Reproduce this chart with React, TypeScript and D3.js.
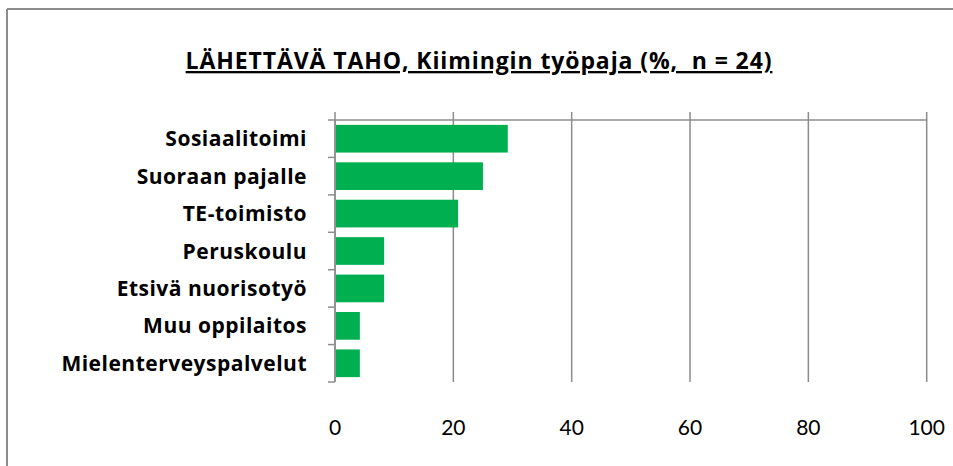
import React from "react";
import * as d3 from "d3";

const categories = [
  "Sosiaalitoimi",
  "Suoraan pajalle",
  "TE-toimisto",
  "Peruskoulu",
  "Etsivä nuorisotyö",
  "Muu oppilaitos",
  "Mielenterveyspalvelut",
];
const values = [29.2, 25.0, 20.8, 8.3, 8.3, 4.2, 4.2];
const xTicks = [0, 20, 40, 60, 80, 100];
const title = "LÄHETTÄVÄ TAHO, Kiimingin työpaja (%,  n = 24)";

const W = 953;
const H = 466;
const plotLeft = 335;
const plotRight = 926.7;
const plotTop = 120;
const plotBottom = 382;
const gray = "#8c8c8c";
const green = "#00b050";
const boldFont = "'Open Sans', Lato, sans-serif";
const tickFont = "Lato, 'Open Sans', sans-serif";

export default function App() {
  const x = d3.scaleLinear().domain([0, 100]).range([plotLeft, plotRight]);
  const y = d3
    .scaleBand<string>()
    .domain(categories)
    .range([plotTop, plotBottom])
    .paddingInner(0.26)
    .paddingOuter(0.13);
  const step = (plotBottom - plotTop) / categories.length;
  const boundaries = d3.range(categories.length + 1).map((i) => plotTop + i * step);

  return (
    <svg
      width={W}
      height={H}
      viewBox={`0 0 ${W} ${H}`}
      style={{ position: "absolute", left: 0, top: 0, background: "#fff" }}
    >
      <rect x={0} y={0} width={W} height={H} fill="#fff" />
      {/* outer chart border */}
      <line x1={7} y1={9} x2={W} y2={9} stroke={gray} strokeWidth={2} />
      <line x1={7} y1={9} x2={7} y2={H} stroke={gray} strokeWidth={2} />

      {/* title */}
      <text
        x={479}
        y={69}
        textAnchor="middle"
        fontFamily={boldFont}
        fontWeight="bold"
        fontSize={23}
        letterSpacing={0.9}
        textDecoration="underline"
        style={{ whiteSpace: "pre" }}
        fill="#000"
      >
        {title}
      </text>

      {/* gridlines with top tick marks */}
      {xTicks.map((t) => (
        <line
          key={"g" + t}
          x1={x(t)}
          x2={x(t)}
          y1={plotTop - 8}
          y2={plotBottom}
          stroke={gray}
          strokeWidth={1.5}
        />
      ))}
      {/* top value-axis line */}
      <line x1={plotLeft} x2={plotRight} y1={plotTop} y2={plotTop} stroke={gray} strokeWidth={1.5} />
      {/* category axis line and ticks */}
      <line x1={plotLeft} x2={plotLeft} y1={plotTop} y2={plotBottom} stroke={gray} strokeWidth={1.5} />
      {boundaries.map((b, i) => (
        <line key={"t" + i} x1={plotLeft - 7} x2={plotLeft} y1={b} y2={b} stroke={gray} strokeWidth={1.5} />
      ))}

      {/* bars */}
      {categories.map((c, i) => (
        <rect
          key={c}
          x={x(0) + 1}
          y={y(c)}
          width={x(values[i]) - x(0) - 1}
          height={y.bandwidth()}
          fill={green}
        />
      ))}

      {/* category labels */}
      {categories.map((c) => (
        <text
          key={"l" + c}
          x={307}
          y={(y(c) as number) + y.bandwidth() / 2}
          dy="0.36em"
          textAnchor="end"
          fontFamily={boldFont}
          fontWeight="bold"
          fontSize={21}
          letterSpacing={0.5}
          fill="#000"
        >
          {c}
        </text>
      ))}

      {/* x tick labels */}
      {xTicks.map((t) => (
        <text
          key={"x" + t}
          x={x(t)}
          y={435}
          textAnchor="middle"
          fontFamily={tickFont}
          fontSize={21}
          fill="#000"
        >
          {t}
        </text>
      ))}
    </svg>
  );
}
